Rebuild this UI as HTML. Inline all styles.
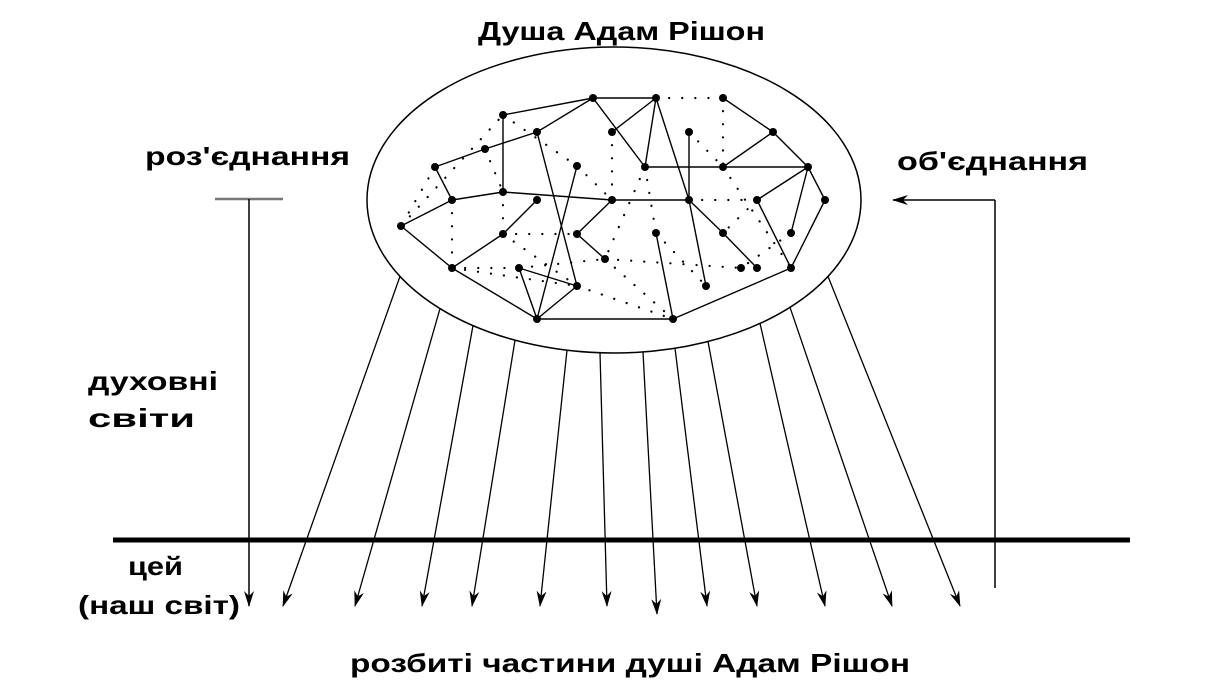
<!DOCTYPE html>
<html><head><meta charset="utf-8"><style>
body{margin:0;background:#fff}
svg{display:block}
text{font-family:"Liberation Sans",Arial,sans-serif;font-weight:bold;fill:#000;font-size:26px}
</style></head><body>
<svg id="s" width="1216" height="700" viewBox="0 0 1216 700" xmlns="http://www.w3.org/2000/svg">
<defs>
<marker id="ah" markerWidth="16" markerHeight="10" refX="15" refY="5" orient="auto" markerUnits="userSpaceOnUse" viewBox="0 0 16 10"><path d="M0,0 L16,5 L0,10 L5,5 Z" fill="#000"/></marker></defs>
<text x="478" y="40" textLength="287" lengthAdjust="spacingAndGlyphs">Душа Адам Рішон</text>
<text x="145" y="165" textLength="205" lengthAdjust="spacingAndGlyphs">роз'єднання</text>
<text x="897" y="170" textLength="191" lengthAdjust="spacingAndGlyphs">об'єднання</text>
<text x="88" y="390" textLength="130" lengthAdjust="spacingAndGlyphs">духовні</text>
<text x="88" y="427" textLength="107" lengthAdjust="spacingAndGlyphs">світи</text>
<text x="128" y="575" textLength="55" lengthAdjust="spacingAndGlyphs">цей</text>
<text x="78" y="614" textLength="162" lengthAdjust="spacingAndGlyphs">(наш світ)</text>
<text x="350" y="672" textLength="560" lengthAdjust="spacingAndGlyphs">розбиті частини душі Адам Рішон</text>
<ellipse cx="614" cy="200" rx="247" ry="153" fill="none" stroke="#000" stroke-width="1.5"/>
<line x1="215" y1="199" x2="283" y2="199" stroke="#777" stroke-width="2.5"/>
<line x1="249" y1="199" x2="249" y2="606" stroke="#000" stroke-width="1.5" marker-end="url(#ah)"/>
<line x1="113" y1="540" x2="1130" y2="540" stroke="#000" stroke-width="5"/>
<polyline points="995,588 995,200" fill="none" stroke="#000" stroke-width="1.5"/>
<line x1="995" y1="200" x2="893" y2="200" stroke="#000" stroke-width="1.5" marker-end="url(#ah)"/>
<g id="g"></g>
</svg>
<script>
var g=document.getElementById('g'),NS='http://www.w3.org/2000/svg';
function el(n,a){var e=document.createElementNS(NS,n);for(var k in a)e.setAttribute(k,a[k]);g.appendChild(e);return e;}
var starts=[400,440,473,515,567,600,643,675,708,760,790,828],tips=[283,355,422,472,540,607,657,707,757,825,892,960];
for(var i=0;i<12;i++){var x=starts[i],t=(x-614)/247,y=200+153*Math.sqrt(Math.max(0,1-t*t));
el('line',{x1:x,y1:y,x2:tips[i],y2:(i==6?614:606),stroke:'#000','stroke-width':1.3,'marker-end':'url(#ah)'});}
var N={A:[593,98],B:[503,115],C:[537,132],D:[612,132],E:[485,149],F:[435,167],G:[577,166],H:[452,200],I:[503,192],J:[537,200],K:[612,200],L:[401,226],M:[503,234],Nn:[577,234],O:[605,259],P:[452,268],Q:[519,268],R:[577,286],S:[537,319],
a:[656,98],b:[723,98],c:[689,132],d:[773,132],e:[645,167],f:[723,167],h:[808,167],k:[689,200],l:[757,200],m:[825,200],n:[656,233],o:[723,233],p:[791,233],q:[741,268],r:[757,268],s:[791,268],t:[706,286],u:[673,319]};
var E=[['B','A'],['B','I'],['C','A'],['F','E'],['E','C'],['F','H'],['H','I'],['I','K'],['H','L'],['L','P'],['P','M'],['M','J'],['P','S'],['S','Q'],['Q','R'],['S','G'],['C','R'],['S','R'],['A','a'],['A','e'],['D','a'],['a','e'],['a','k'],['k','t'],['c','k'],['e','h'],['f','d'],['b','d'],['d','h'],['h','l'],['h','p'],['h','m'],['m','s'],['l','s'],['K','k'],['k','o'],['o','r'],['n','u'],['S','u'],['u','s'],['K','Nn'],['Nn','O']];
E.forEach(function(e){var p=N[e[0]],q=N[e[1]];el('line',{x1:p[0],y1:p[1],x2:q[0],y2:q[1],stroke:'#000','stroke-width':1.4});});
var D=[['L','B'],['H','P'],['P','Q'],['M','Nn'],['a','b'],['b','f'],['k','l'],['F','L'],['E','I'],['B','G'],['I','M'],['O','q'],['n','t'],['c','f'],['f','s'],['Q','O'],['l','o'],['D','K'],['e','n'],['R','u'],['O','u'],['P','R'],['G','K'],['p','q'],['e','O'],['M','R']];
D.forEach(function(e){var p=N[e[0]],q=N[e[1]];el('line',{x1:p[0],y1:p[1],x2:q[0],y2:q[1],stroke:'#000','stroke-width':2.2,'stroke-dasharray':'0.1 13','stroke-linecap':'round'});});
for(var k in N)el('circle',{cx:N[k][0],cy:N[k][1],r:4,fill:'#000'});
</script>
</body></html>
